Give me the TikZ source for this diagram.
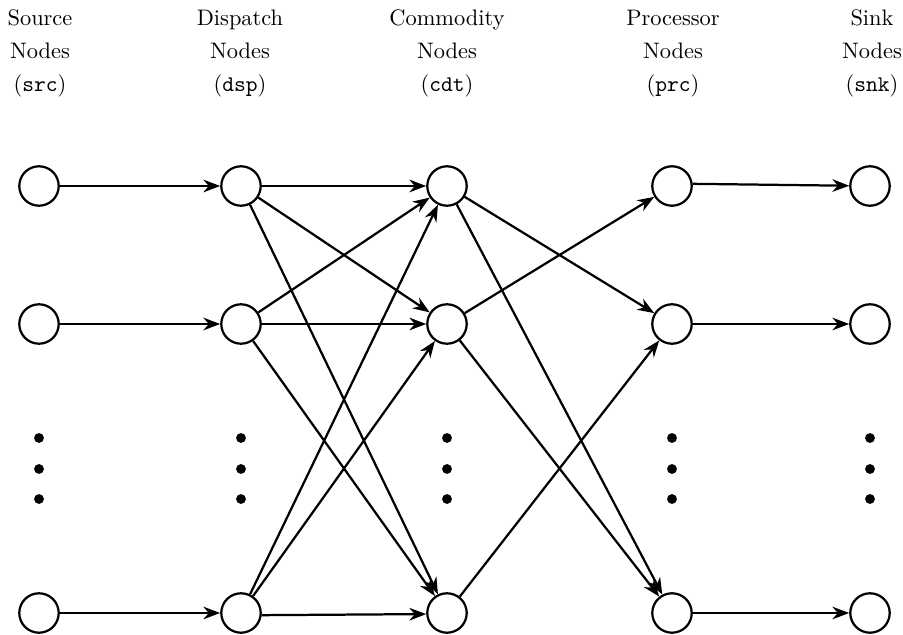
\documentclass[tikz,border=0pt]{standalone}
\usetikzlibrary{arrows.meta}
\begin{document}
\begin{tikzpicture}[x=0.4464pt, y=-0.4464pt,
  vertex/.style={circle, draw, line width=1pt, inner sep=0pt, minimum size=17.6pt},
  dot/.style={circle, fill, inner sep=0pt, minimum size=4.4pt},
  header/.style={anchor=base, align=center, inner sep=0pt, font=\fontsize{10}{14.8}\selectfont},
  flow/.style={-{Stealth}, line width=1pt}]
  \useasboundingbox (0,0) rectangle (903,635);

  % column headers (anchored at the baseline of their last line)
  \node[header] (hsrc) at (40,91.7)  {Source\\Nodes\\(\texttt{src})};
  \node[header] (hdsp) at (240,91.7) {Dispatch\\Nodes\\(\texttt{dsp})};
  \node[header] (hcdt) at (447,91.7) {Commodity\\Nodes\\(\texttt{cdt})};
  \node[header] (hprc) at (673,91.7) {Processor\\Nodes\\(\texttt{prc})};
  \node[header] (hsnk) at (872,91.7) {Sink\\Nodes\\(\texttt{snk})};

  % vertices: three rows per column, with dots between rows two and three
  \foreach \name/\x in {src/39, dsp/241, cdt/447, prc/672, snk/870} {
    \node[vertex] (\name1) at (\x,186) {};
    \node[vertex] (\name2) at (\x,324) {};
    \node[vertex] (\name3) at (\x,613) {};
    \node[dot] (\name d1) at (\x,438) {};
    \node[dot] (\name d2) at (\x,469) {};
    \node[dot] (\name d3) at (\x,499) {};
  }

  % source -> dispatch
  \draw[flow] (src1) -- (dsp1);
  \draw[flow] (src2) -- (dsp2);
  \draw[flow] (src3) -- (dsp3);

  % dispatch -> commodity
  \draw[flow] (dsp1) -- (cdt1);
  \draw[flow] (dsp1) -- (cdt2);
  \draw[flow] (dsp1) -- (cdt3);
  \draw[flow] (dsp2) -- (cdt1);
  \draw[flow] (dsp2) -- (cdt2);
  \draw[flow] (dsp2) -- (cdt3);
  \draw[flow] (dsp3) -- (cdt1);
  \draw[flow] (dsp3) -- (cdt2);
  \draw[flow] (dsp3.-6) -- (cdt3.183);

  % commodity -> processor
  \draw[flow] (cdt1) -- (prc2);
  \draw[flow] (cdt1) -- (prc3);
  \draw[flow] (cdt2) -- (prc1);
  \draw[flow] (cdt2) -- (prc3);
  \draw[flow] (cdt3) -- (prc2);

  % processor -> sink
  \draw[flow] (prc1.6) -- (snk1);
  \draw[flow] (prc2) -- (snk2);
  \draw[flow] (prc3) -- (snk3);
\end{tikzpicture}
\end{document}
